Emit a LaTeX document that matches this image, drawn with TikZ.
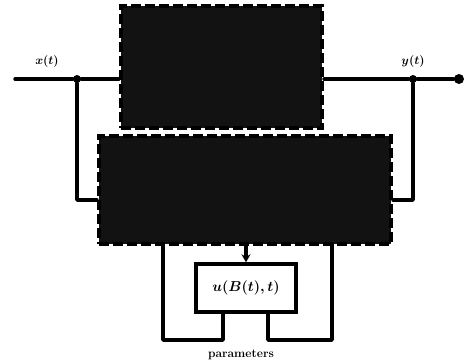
\documentclass[tikz,border=0pt]{standalone}
\usetikzlibrary{arrows.meta}
\begin{document}
\begin{tikzpicture}[x=1pt,y=-1pt,
  wire/.style={line width=3.4pt,line cap=round,line join=round},
  darkblock/.style={draw=black,line width=4pt,dashed,dash pattern=on 10pt off 4pt,fill=black!93,inner sep=0pt},
  lawbox/.style={draw=black,line width=3.4pt,fill=white,inner sep=0pt,font=\Large\mathversion{bold}},
  dot/.style={circle,fill=black,inner sep=0pt,minimum size=8pt},
  lbl/.style={font=\large\mathversion{bold},inner sep=1pt}]
\useasboundingbox (0,0) rectangle (466,364);

% blocks
\node[darkblock,minimum width=201pt,minimum height=122pt] (plant) at (221.5,67) {};
\node[darkblock,minimum width=292pt,minimum height=108pt] (model) at (245,190) {};
\node[lawbox,minimum width=100pt,minimum height=48pt] (law) at (246,288) {$u(B(t),t)$};

% signal line
\coordinate (in) at (15,79);
\node[dot] (jin) at (77,79) {};
\node[dot] (jout) at (413,79) {};
\node[dot,minimum size=10pt] (out) at (459,79) {};
\draw[wire] (in) -- (jin) -- (plant.west |- jin);
\draw[wire] (plant.east |- jout) -- (jout) -- (out);
\node[lbl] (xl) at (47,61) {$x(t)$};
\node[lbl] (yl) at (413,61) {$y(t)$};

% feedback into the model block
\draw[wire] (jin) |- (model.west |- 0,200);
\draw[wire] (jout) |- (model.east |- 0,200);

% model to control law
\draw[wire,-{Stealth[length=8pt,width=9pt]}] (model.south -| law.north) -- (law.north);

% parameter loops
\coordinate (pl) at (223,340);
\coordinate (pr) at (268,340);
\draw[wire] (law.south -| pl) -- (pl) -- (163,340) -- (163,244);
\draw[wire] (law.south -| pr) -- (pr) -- (332,340) -- (332,244);
\node[lbl,font=\large\bfseries] (par) at (241,355) {parameters};
\end{tikzpicture}
\end{document}
